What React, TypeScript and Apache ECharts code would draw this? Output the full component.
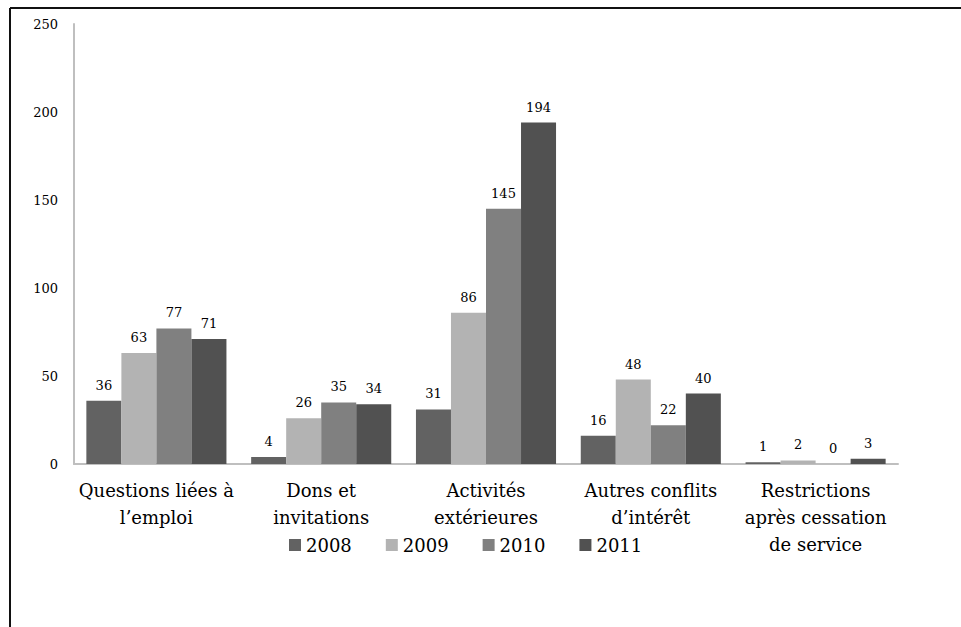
import React, { useEffect, useRef } from "react";
import * as echarts from "echarts";

// Categories of files handled, per year
const categories = [
  "Questions liées à\nl’emploi",
  "Dons et\ninvitations",
  "Activités\nextérieures",
  "Autres conflits\nd’intérêt",
  "Restrictions\naprès cessation\nde service",
];
const years = ["2008", "2009", "2010", "2011"];
const values2008 = [36, 4, 31, 16, 1];
const values2009 = [63, 26, 86, 48, 2];
const values2010 = [77, 35, 145, 22, 0];
const values2011 = [71, 34, 194, 40, 3];
const yTicks = { min: 0, max: 250, interval: 50 };

const seriesValues = [values2008, values2009, values2010, values2011];
const seriesColors = ["#626262", "#b3b3b3", "#808080", "#515151"];
const FONT = "DejaVu Serif";

export default function App() {
  const ref = useRef<HTMLDivElement>(null);

  useEffect(() => {
    if (!ref.current) return;
    const chart = echarts.init(ref.current, null, { renderer: "svg" });
    chart.setOption({
      animation: false,
      backgroundColor: "#ffffff",
      textStyle: { fontFamily: FONT },
      grid: { left: 74, right: 63, top: 24, bottom: 163, containLabel: false },
      legend: {
        data: years,
        left: 284,
        top: 531,
        icon: "rect",
        itemWidth: 12,
        itemHeight: 12,
        itemGap: 34,
        textStyle: { fontFamily: FONT, fontSize: 18, color: "#000" },
      },
      xAxis: {
        type: "category",
        data: categories,
        axisLine: { lineStyle: { color: "#bfbfbf", width: 2 } },
        axisTick: { show: false },
        axisLabel: {
          interval: 0,
          margin: 13,
          fontFamily: FONT,
          fontSize: 18,
          lineHeight: 27,
          color: "#000",
        },
      },
      yAxis: {
        type: "value",
        min: yTicks.min,
        max: yTicks.max,
        interval: yTicks.interval,
        axisLine: { show: true, lineStyle: { color: "#bfbfbf", width: 2 } },
        axisTick: { show: false },
        splitLine: { show: false },
        axisLabel: { margin: 16, fontFamily: FONT, fontSize: 13, color: "#000" },
      },
      series: years.map((y, i) => ({
        name: y,
        type: "bar",
        data: seriesValues[i],
        barGap: "0%",
        barCategoryGap: "15%",
        itemStyle: { color: seriesColors[i] },
        label: {
          show: true,
          position: "top",
          distance: 9,
          fontFamily: FONT,
          fontSize: 13,
          color: "#000",
        },
      })),
      graphic: [
        { type: "line", shape: { x1: 10, y1: 8, x2: 10, y2: 627 }, style: { stroke: "#111", lineWidth: 2 } },
        { type: "line", shape: { x1: 10, y1: 8, x2: 961, y2: 8 }, style: { stroke: "#111", lineWidth: 2 } },
      ],
    });
    return () => chart.dispose();
  }, []);

  return (
    <div
      ref={ref}
      style={{ position: "absolute", left: 0, top: 0, width: 961, height: 627 }}
    />
  );
}
